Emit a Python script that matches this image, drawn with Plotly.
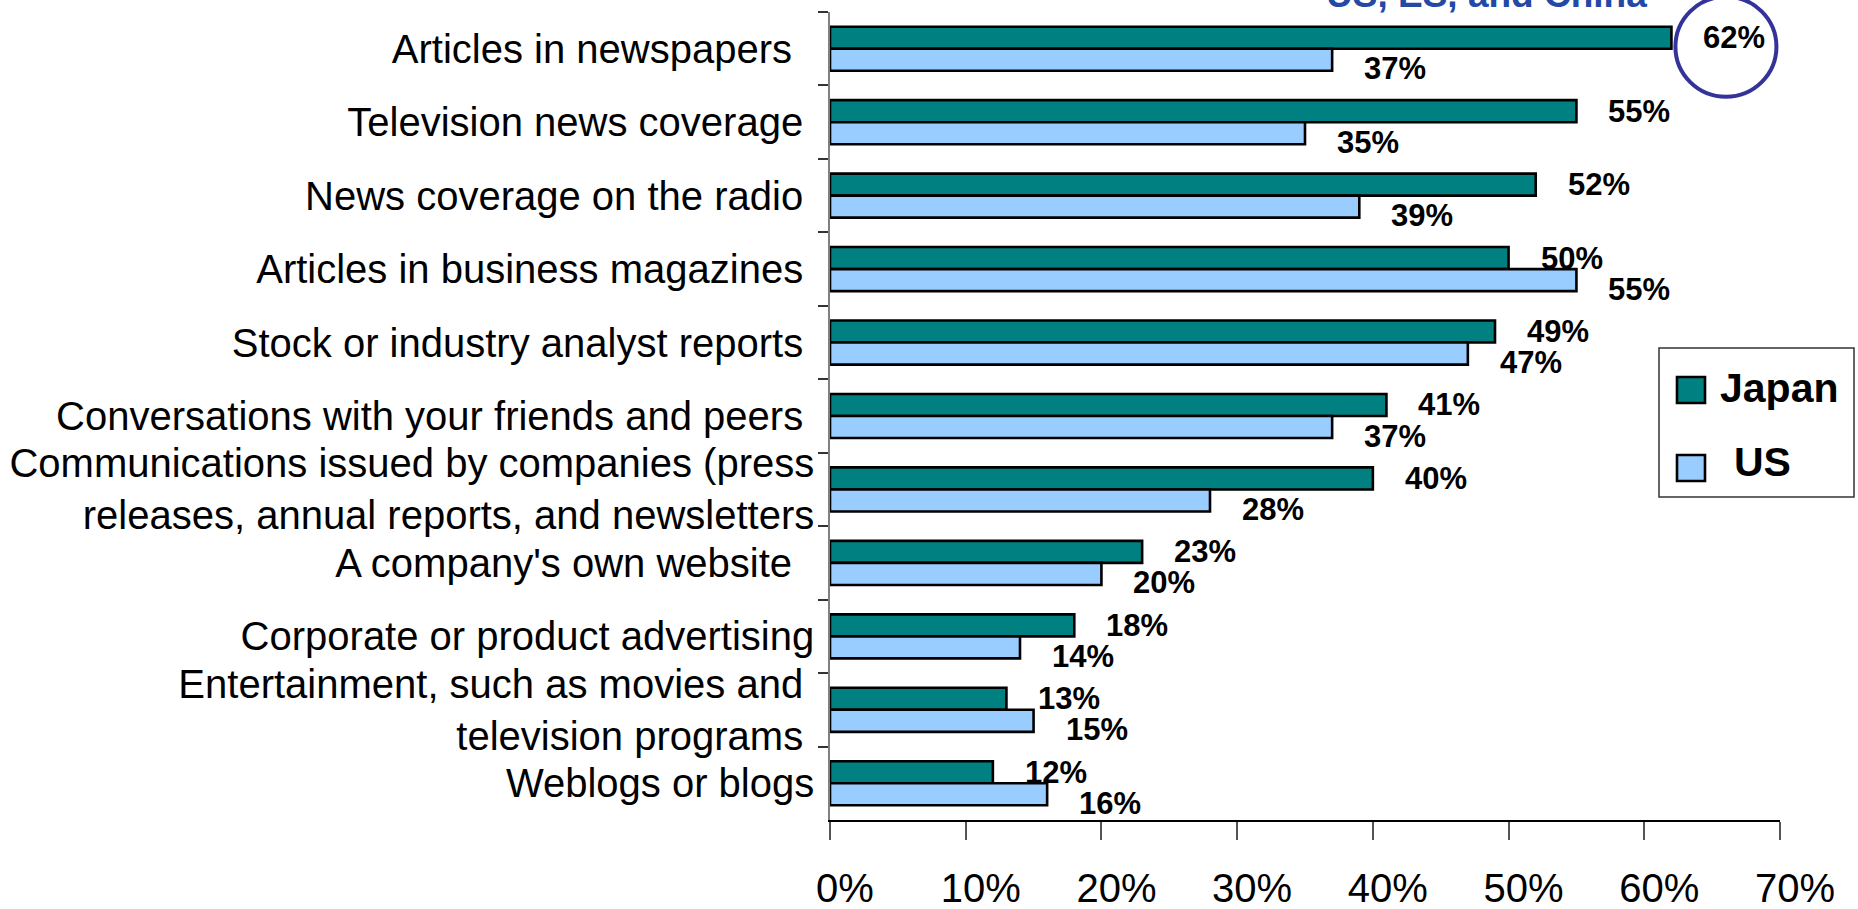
import plotly.graph_objects as go

# Sources of information, share of respondents (%)
NB = "\u00a0"
categories = [
    "Articles in newspapers" + NB * 2,
    "Television news coverage" + NB,
    "News coverage on the radio" + NB,
    "Articles in business magazines" + NB,
    "Stock or industry analyst reports" + NB,
    "Conversations with your friends and peers" + NB,
    "Communications issued by companies (press<br>releases, annual reports, and newsletters",
    "A company's own website" + NB * 2,
    "Corporate or product advertising",
    "Entertainment, such as movies and" + NB + "<br>television programs" + NB,
    "Weblogs or blogs",
]
japan = [62, 55, 52, 50, 49, 41, 40, 23, 18, 13, 12]
us = [37, 35, 39, 55, 47, 37, 28, 20, 14, 15, 16]
series_names = ["Japan", "US"]
x_ticks = [0, 10, 20, 30, 40, 50, 60, 70]
headline = "US, ES, and China"

JAPAN_COLOR = "#008080"
US_COLOR = "#99CCFF"
FONT = "Liberation Sans, Arial, sans-serif"

W, H = 1858, 909
M_L, M_R, M_T, M_B = 830, 78, 12, 89
PW, PH = W - M_L - M_R, H - M_T - M_B
BARGAP = 0.40


def px_x(px):
    return (px - M_L) / PW


def px_y(py):
    return (H - M_B - py) / PH


fig = go.Figure()
for name, vals, col in [(series_names[0], japan, JAPAN_COLOR), (series_names[1], us, US_COLOR)]:
    fig.add_trace(go.Bar(
        y=categories, x=vals, name=name, orientation="h",
        marker=dict(color=col, line=dict(color="black", width=2.6)),
        showlegend=False, hoverinfo="x+y+name",
    ))

# value labels beside each bar
offset = (1 - BARGAP) / 4
annotations = []
for i, (j, u) in enumerate(zip(japan, us)):
    annotations.append(dict(
        x=j, y=i - offset, xref="x", yref="y", text=f"<b>{j}%</b>",
        showarrow=False, xanchor="left", yanchor="middle", xshift=30,
        font=dict(family=FONT, size=31, color="black"),
    ))
    annotations.append(dict(
        x=u, y=i + offset, xref="x", yref="y", text=f"<b>{u}%</b>",
        showarrow=False, xanchor="left", yanchor="middle", xshift=30, yshift=-9,
        font=dict(family=FONT, size=31, color="black"),
    ))

# headline running off the top edge
annotations.append(dict(
    x=px_x(1486), y=px_y(17), xref="paper", yref="paper", text=f"<b>{headline}</b>",
    showarrow=False, xanchor="center", yanchor="bottom",
    font=dict(family=FONT, size=37, color="#2348A6"),
))

# legend text
annotations.append(dict(
    x=px_x(1718), y=px_y(388), xref="paper", yref="paper", text=f"<b>{series_names[0]}</b>",
    showarrow=False, xanchor="left", yanchor="middle",
    font=dict(family=FONT, size=41, color="black"),
))
annotations.append(dict(
    x=px_x(1732), y=px_y(462), xref="paper", yref="paper", text=f"<b>{series_names[1]}</b>",
    showarrow=False, xanchor="left", yanchor="middle",
    font=dict(family=FONT, size=41, color="black"),
))

shapes = []
# legend frame and swatches
shapes.append(dict(type="rect", xref="paper", yref="paper",
                   x0=px_x(1659), x1=px_x(1854), y0=px_y(497), y1=px_y(348),
                   line=dict(color="#333333", width=1.5), fillcolor="white", layer="above"))
shapes.append(dict(type="rect", xref="paper", yref="paper",
                   x0=px_x(1677), x1=px_x(1705), y0=px_y(403), y1=px_y(377),
                   line=dict(color="black", width=2.6), fillcolor=JAPAN_COLOR, layer="above"))
shapes.append(dict(type="rect", xref="paper", yref="paper",
                   x0=px_x(1677), x1=px_x(1705), y0=px_y(481), y1=px_y(455),
                   line=dict(color="black", width=2.6), fillcolor=US_COLOR, layer="above"))

# ring highlighting the top Japan value
top_i = 0
shapes.append(dict(
    type="circle", xref="paper", yref="paper",
    xsizemode="pixel", ysizemode="pixel",
    xanchor=japan[top_i] / x_ticks[-1], yanchor=1 - (top_i + 0.5 - offset) / len(categories),
    x0=4, x1=105, y0=-59, y1=41,
    line=dict(color="#333399", width=4), layer="above",
))

fig.update_layout(
    width=W, height=H,
    margin=dict(l=M_L, r=M_R, t=M_T, b=M_B, pad=0, autoexpand=False),
    paper_bgcolor="white", plot_bgcolor="white",
    barmode="group", bargap=BARGAP, bargroupgap=0,
    annotations=annotations, shapes=shapes,
    font=dict(family=FONT, color="black"),
    showlegend=False,
)
fig.update_xaxes(
    automargin=False,
    range=[0, x_ticks[-1]], tickvals=x_ticks, ticktext=[f"{t}%" for t in x_ticks],
    showgrid=False, zeroline=False,
    showline=True, linecolor="black", linewidth=1.5,
    ticks="outside", ticklen=18, tickcolor="#555555", tickwidth=1.5,
    tickfont=dict(family=FONT, size=40, color="black"),
    ticklabelstandoff=14, ticklabelshift=15,
)
fig.update_yaxes(
    automargin=False,
    type="category", categoryorder="array", categoryarray=categories,
    autorange="reversed",
    showgrid=False, zeroline=False,
    showline=True, linecolor="#808080", linewidth=1.5,
    ticks="outside", ticklen=10, tickcolor="#333333", tickwidth=1.5,
    tickson="boundaries", ticklabelstandoff=6,
    tickfont=dict(family=FONT, size=40, color="black"),
)

fig.write_html("out.html")
